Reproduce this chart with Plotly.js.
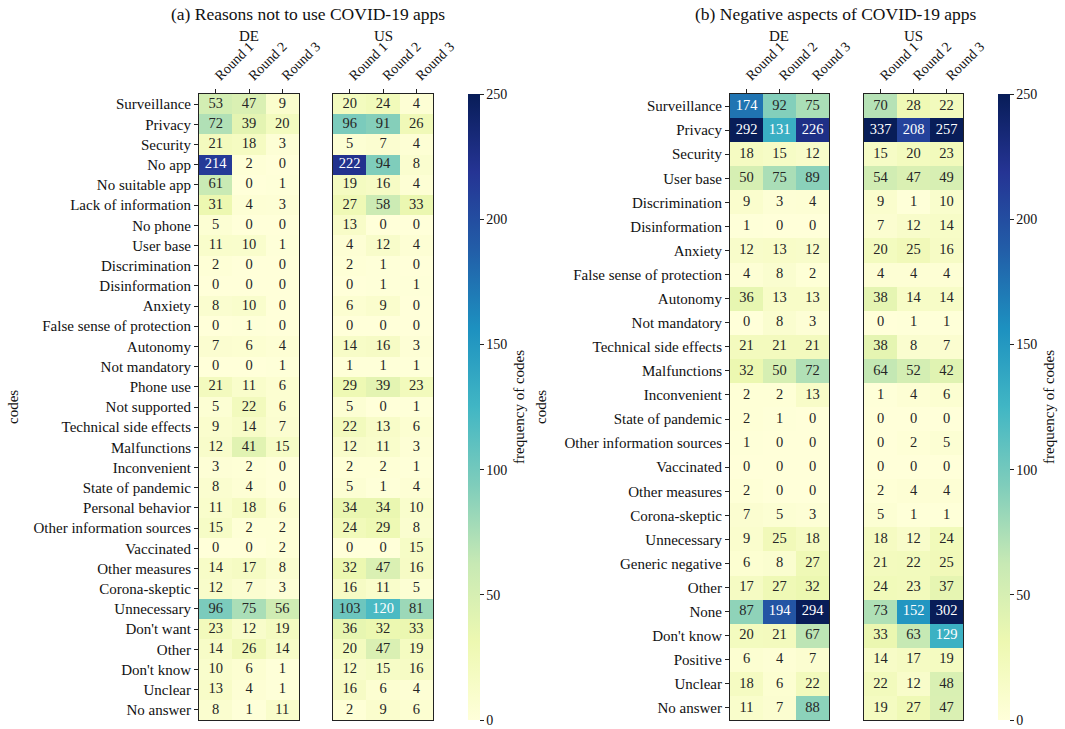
<!DOCTYPE html>
<html>
<head>
<meta charset="utf-8">
<script src="https://cdn.plot.ly/plotly-3.0.1.min.js"></script>
<style>html,body{margin:0;padding:0;background:#fff;}</style>
</head>
<body>
<div id="chart" style="width:1065px;height:729px;"></div>
<script>
// Survey rounds (columns of each heatmap)
const rounds = ['Round 1', 'Round 2', 'Round 3'];

// (a) Reasons not to use COVID-19 apps
const reasonCodes = [
  'Surveillance', 'Privacy', 'Security', 'No app', 'No suitable app', 'Lack of information',
  'No phone', 'User base', 'Discrimination', 'Disinformation', 'Anxiety',
  'False sense of protection', 'Autonomy', 'Not mandatory', 'Phone use', 'Not supported',
  'Technical side effects', 'Malfunctions', 'Inconvenient', 'State of pandemic',
  'Personal behavior', 'Other information sources', 'Vaccinated', 'Other measures',
  'Corona-skeptic', 'Unnecessary', "Don't want", 'Other', "Don't know", 'Unclear', 'No answer'
];
const reasonsDE = [
  [53, 47, 9], [72, 39, 20], [21, 18, 3], [214, 2, 0], [61, 0, 1], [31, 4, 3],
  [5, 0, 0], [11, 10, 1], [2, 0, 0], [0, 0, 0], [8, 10, 0],
  [0, 1, 0], [7, 6, 4], [0, 0, 1], [21, 11, 6], [5, 22, 6],
  [9, 14, 7], [12, 41, 15], [3, 2, 0], [8, 4, 0],
  [11, 18, 6], [15, 2, 2], [0, 0, 2], [14, 17, 8],
  [12, 7, 3], [96, 75, 56], [23, 12, 19], [14, 26, 14], [10, 6, 1], [13, 4, 1], [8, 1, 11]
];
const reasonsUS = [
  [20, 24, 4], [96, 91, 26], [5, 7, 4], [222, 94, 8], [19, 16, 4], [27, 58, 33],
  [13, 0, 0], [4, 12, 4], [2, 1, 0], [0, 1, 1], [6, 9, 0],
  [0, 0, 0], [14, 16, 3], [1, 1, 1], [29, 39, 23], [5, 0, 1],
  [22, 13, 6], [12, 11, 3], [2, 2, 1], [5, 1, 4],
  [34, 34, 10], [24, 29, 8], [0, 0, 15], [32, 47, 16],
  [16, 11, 5], [103, 120, 81], [36, 32, 33], [20, 47, 19], [12, 15, 16], [16, 6, 4], [2, 9, 6]
];

// (b) Negative aspects of COVID-19 apps
const aspectCodes = [
  'Surveillance', 'Privacy', 'Security', 'User base', 'Discrimination', 'Disinformation',
  'Anxiety', 'False sense of protection', 'Autonomy', 'Not mandatory',
  'Technical side effects', 'Malfunctions', 'Inconvenient', 'State of pandemic',
  'Other information sources', 'Vaccinated', 'Other measures', 'Corona-skeptic',
  'Unnecessary', 'Generic negative', 'Other', 'None', "Don't know", 'Positive', 'Unclear', 'No answer'
];
const aspectsDE = [
  [174, 92, 75], [292, 131, 226], [18, 15, 12], [50, 75, 89], [9, 3, 4], [1, 0, 0],
  [12, 13, 12], [4, 8, 2], [36, 13, 13], [0, 8, 3],
  [21, 21, 21], [32, 50, 72], [2, 2, 13], [2, 1, 0],
  [1, 0, 0], [0, 0, 0], [2, 0, 0], [7, 5, 3],
  [9, 25, 18], [6, 8, 27], [17, 27, 32], [87, 194, 294], [20, 21, 67], [6, 4, 7], [18, 6, 22], [11, 7, 88]
];
const aspectsUS = [
  [70, 28, 22], [337, 208, 257], [15, 20, 23], [54, 47, 49], [9, 1, 10], [7, 12, 14],
  [20, 25, 16], [4, 4, 4], [38, 14, 14], [0, 1, 1],
  [38, 8, 7], [64, 52, 42], [1, 4, 6], [0, 0, 0],
  [0, 2, 5], [0, 0, 0], [2, 4, 4], [5, 1, 1],
  [18, 12, 24], [21, 22, 25], [24, 23, 37], [73, 152, 302], [33, 63, 129], [14, 17, 19], [22, 12, 48], [19, 27, 47]
];

const FONT = "'Liberation Serif', 'DejaVu Serif', serif";
const W = 1065, H = 729;
const px = v => v / W;
const py = v => 1 - v / H;

// Yellow-green-blue sequential scale
const ylgnbu = [
  [0.000, '#ffffd9'], [0.125, '#edf8b1'], [0.250, '#c7e9b4'], [0.375, '#7fcdbb'],
  [0.500, '#41b6c4'], [0.625, '#1d91c0'], [0.750, '#225ea8'], [0.875, '#253494'], [1.000, '#081d58']
];

function heat(z, codes, xa, ya, ca) {
  return {
    type: 'heatmap', z: z, x: rounds, y: codes,
    xaxis: xa, yaxis: ya, coloraxis: ca,
    hoverinfo: 'skip', xgap: 0, ygap: 0
  };
}

// Cell value labels, light text on dark cells
function labels(z, codes, xa, ya) {
  const xs = [], ys = [], ts = [], cs = [];
  z.forEach((row, i) => row.forEach((v, j) => {
    xs.push(rounds[j]); ys.push(codes[i]); ts.push(String(v));
    cs.push(v > 110 ? '#ffffff' : '#262626');
  }));
  return {
    type: 'scatter', mode: 'text', x: xs, y: ys, text: ts,
    textposition: 'middle center', cliponaxis: false,
    textfont: {family: FONT, size: 14.5, color: cs},
    xaxis: xa, yaxis: ya, hoverinfo: 'skip', showlegend: false
  };
}

const data = [
  heat(reasonsDE, reasonCodes, 'x', 'y', 'coloraxis'),
  heat(reasonsUS, reasonCodes, 'x2', 'y2', 'coloraxis'),
  heat(aspectsDE, aspectCodes, 'x3', 'y3', 'coloraxis2'),
  heat(aspectsUS, aspectCodes, 'x4', 'y4', 'coloraxis2'),
  labels(reasonsDE, reasonCodes, 'x', 'y'),
  labels(reasonsUS, reasonCodes, 'x2', 'y2'),
  labels(aspectsDE, aspectCodes, 'x3', 'y3'),
  labels(aspectsUS, aspectCodes, 'x4', 'y4')
];

const yDomain = [1 - 720 / H, 1 - 94 / H];

function xAxis(d0, d1, anchor) {
  return {
    domain: [px(d0), px(d1)], anchor: anchor, side: 'top',
    type: 'category', tickangle: -45, range: [-0.5, rounds.length - 0.5],
    ticks: 'outside', ticklen: 4, tickwidth: 1, tickcolor: '#222',
    tickfont: {family: FONT, size: 14, color: '#111'},
    showline: true, mirror: true, linecolor: '#222', linewidth: 1,
    showgrid: false, zeroline: false, fixedrange: true
  };
}
function yAxis(anchor, codes, showLabels) {
  return {
    domain: yDomain, anchor: anchor, type: 'category',
    range: [codes.length - 0.5, -0.5],
    ticks: showLabels ? 'outside' : '', ticklen: 4, tickwidth: 1, tickcolor: '#222',
    showticklabels: showLabels,
    tickfont: {family: FONT, size: 15, color: '#111'},
    showline: true, mirror: true, linecolor: '#222', linewidth: 1,
    showgrid: false, zeroline: false, fixedrange: true
  };
}
function colorAxis(xPx) {
  return {
    cmin: 0, cmax: 250, colorscale: ylgnbu,
    colorbar: {
      x: px(xPx), xanchor: 'left', xpad: 0, thickness: 12,
      y: yDomain[0], yanchor: 'bottom', ypad: 0,
      len: 626, lenmode: 'pixels', outlinewidth: 0,
      tickvals: [0, 50, 100, 150, 200, 250],
      ticks: 'outside', ticklen: 4, tickcolor: '#222',
      tickfont: {family: FONT, size: 14, color: '#111'}
    }
  };
}

function note(text, x, y, size, angle) {
  return {
    text: text, xref: 'paper', yref: 'paper', x: px(x), y: py(y),
    xanchor: 'center', yanchor: 'middle', showarrow: false,
    textangle: angle || 0, font: {family: FONT, size: size, color: '#111'}
  };
}

const layout = {
  width: W, height: H,
  margin: {l: 0, r: 0, t: 0, b: 0},
  paper_bgcolor: '#ffffff', plot_bgcolor: '#ffffff',
  showlegend: false,
  xaxis: xAxis(199, 299, 'y'),
  xaxis2: xAxis(333, 433, 'y2'),
  xaxis3: xAxis(730, 829, 'y3'),
  xaxis4: xAxis(864, 963, 'y4'),
  yaxis: yAxis('x', reasonCodes, true),
  yaxis2: yAxis('x2', reasonCodes, false),
  yaxis3: yAxis('x3', aspectCodes, true),
  yaxis4: yAxis('x4', aspectCodes, false),
  coloraxis: colorAxis(468),
  coloraxis2: colorAxis(998),
  annotations: [
    note('(a) Reasons not to use COVID-19 apps', 308, 14, 17.5),
    note('(b) Negative aspects of COVID-19 apps', 836, 14, 17.5),
    note('DE', 249, 36, 15),
    note('US', 383, 36, 15),
    note('DE', 779, 36, 15),
    note('US', 913, 36, 15),
    note('codes', 13, 407, 15, -90),
    note('codes', 541, 407, 15, -90),
    note('frequency of codes', 519, 407, 15, -90),
    note('frequency of codes', 1049, 407, 15, -90)
  ]
};

Plotly.newPlot('chart', data, layout, {displayModeBar: false, staticPlot: true});
</script>
</body>
</html>
